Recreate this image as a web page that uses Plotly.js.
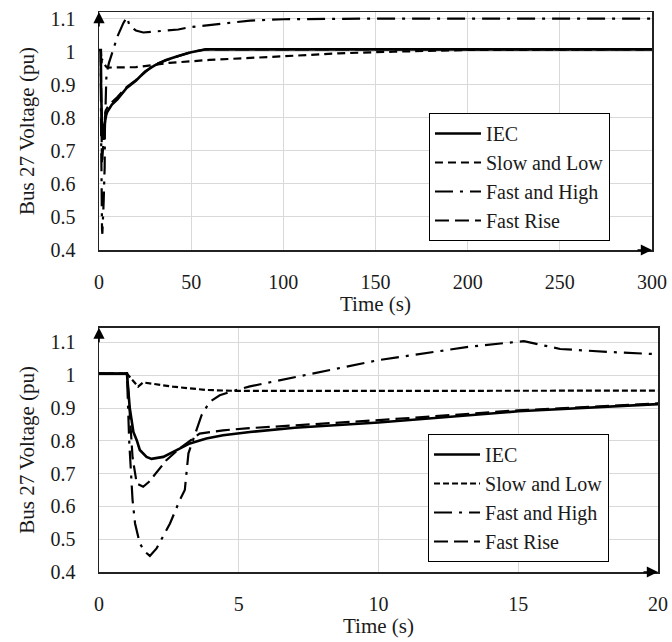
<!DOCTYPE html>
<html>
<head>
<meta charset="utf-8">
<script src="https://cdn.plot.ly/plotly-3.0.1.min.js"></script>
<style>html,body{margin:0;padding:0;background:#fff;}#chart{width:672px;height:642px;}</style>
</head>
<body>
<div id="chart"></div>
<script>
// Series names
const seriesNames = ["IEC", "Slow and Low", "Fast and High", "Fast Rise"];

// IEC
const tIEC = [0, 1.0, 1.1, 1.23, 1.35, 1.46, 1.7, 1.88, 2.3, 2.77, 3.25, 3.84, 4.44, 5.4, 7, 10, 13.25, 15, 20, 25, 30, 36, 43, 50, 58, 100, 200, 300];
const vIEC = [1.005, 1.005, 0.9, 0.827, 0.802, 0.772, 0.751, 0.745, 0.751, 0.772, 0.792, 0.807, 0.817, 0.827, 0.84, 0.856, 0.878, 0.89, 0.912, 0.94, 0.958, 0.974, 0.987, 0.998, 1.007, 1.007, 1.007, 1.007];

// Slow and Low
const tSlow = [0, 1.0, 1.4, 1.58, 2.65, 3.85, 5, 10, 15, 20, 38, 60, 100, 130, 160, 200, 300];
const vSlow = [1.005, 1.005, 0.965, 0.978, 0.965, 0.955, 0.952, 0.952, 0.952, 0.953, 0.966, 0.975, 0.986, 0.995, 1.0, 1.005, 1.007];

// Fast and High
const tFast = [0, 1.0, 1.08, 1.2, 1.29, 1.46, 1.64, 1.82, 2.06, 2.54, 2.89, 3.07, 3.2, 3.49, 3.67, 3.96, 4.32, 4.68, 5.4, 10, 13.25, 15.2, 16.5, 18.25, 20, 24, 43, 49, 82, 100, 150, 300];
const vFast = [1.005, 1.005, 0.8, 0.62, 0.548, 0.487, 0.462, 0.449, 0.472, 0.548, 0.619, 0.65, 0.762, 0.838, 0.878, 0.919, 0.939, 0.949, 0.966, 1.046, 1.087, 1.104, 1.08, 1.071, 1.064, 1.058, 1.067, 1.074, 1.094, 1.098, 1.1, 1.1];

// Fast Rise
const tRise = [0, 1.0, 1.05, 1.2, 1.35, 1.58, 1.79, 2.06, 2.41, 2.89, 3.37, 3.6, 4.44, 5.27, 10, 13.25, 15, 20, 30, 40, 50, 58, 100, 300];
const vRise = [1.005, 1.005, 0.95, 0.75, 0.67, 0.66, 0.675, 0.705, 0.741, 0.777, 0.807, 0.822, 0.832, 0.838, 0.863, 0.882, 0.893, 0.914, 0.961, 0.981, 0.999, 1.007, 1.007, 1.007];

// Axis ticks
const topXTicks = [0, 50, 100, 150, 200, 250, 300];
const botXTicks = [0, 5, 10, 15, 20];
const yTicks = [0.4, 0.5, 0.6, 0.7, 0.8, 0.9, 1, 1.1];

const FONT = "Liberation Serif";
const TXT = "#1a1a1a";

const data = [tIEC, tSlow, tFast, tRise];
const vals = [vIEC, vSlow, vFast, vRise];
const widths = [2.6, 2.2, 2.2, 2.2];
const dashTop = ["solid", "8px,5px", "18px,7px,3px,7px", "14px,6px"];
const dashBot = ["solid", "6px,3px", "18px,7px,3px,7px", "14px,6px"];

const traces = [];
for (let i = 0; i < 4; i++) {
  traces.push({
    x: data[i], y: vals[i], type: "scatter", mode: "lines",
    name: seriesNames[i], xaxis: "x", yaxis: "y", legend: "legend",
    legendgroup: "t" + i,
    line: {color: "#000", width: widths[i], dash: dashTop[i]}
  });
}
for (let i = 0; i < 4; i++) {
  traces.push({
    x: data[i], y: vals[i], type: "scatter", mode: "lines",
    name: seriesNames[i], xaxis: "x2", yaxis: "y2", legend: "legend2",
    legendgroup: "b" + i,
    line: {color: "#000", width: widths[i], dash: dashBot[i]}
  });
}

function xax(domain, range, ticks, anchor) {
  return {
    domain: domain, range: range, anchor: anchor,
    tickmode: "array", tickvals: ticks, ticktext: ticks.map(String),
    showgrid: true, gridcolor: "#d9d9d9", gridwidth: 1,
    zeroline: false, showline: true, linecolor: "#222", linewidth: 1.5, mirror: true,
    ticks: "", ticklabelstandoff: 13,
    tickfont: {family: FONT, size: 20, color: TXT},
    title: {text: "Time (s)", font: {family: FONT, size: 21, color: TXT}, standoff: 5}
  };
}
function yax(domain, range, anchor) {
  return {
    domain: domain, range: range, anchor: anchor,
    tickmode: "array", tickvals: yTicks, ticktext: yTicks.map(String),
    showgrid: true, gridcolor: "#d9d9d9", gridwidth: 1,
    zeroline: false, showline: true, linecolor: "#222", linewidth: 1.5, mirror: true,
    ticks: "", ticklabelstandoff: 18,
    tickfont: {family: FONT, size: 20, color: TXT},
    title: {text: "Bus 27 Voltage (pu)", font: {family: FONT, size: 21, color: TXT}, standoff: 10}
  };
}

function arrow(xref, yref, x, y, ax, ay) {
  return {xref: xref, yref: yref, x: x, y: y, ax: ax, ay: ay, axref: "pixel", ayref: "pixel",
    text: "", showarrow: true, arrowhead: 2, arrowsize: 1.4, arrowwidth: 1.6, arrowcolor: "#000"};
}

const legendCommon = {
  xref: "paper", yref: "paper", xanchor: "left", yanchor: "top",
  bgcolor: "#fff", bordercolor: "#000", borderwidth: 1,
  font: {family: FONT, size: 20, color: TXT},
  tracegroupgap: 0, itemwidth: 46
};

const layout = {
  width: 672, height: 642,
  font: {family: FONT, color: TXT},
  margin: {l: 99, r: 14, t: 12, b: 70},
  paper_bgcolor: "#fff", plot_bgcolor: "#fff",
  showlegend: true,
  xaxis: xax([0, 0.9893], [0, 300], topXTicks, "y"),
  yaxis: yax([0.575, 1], [0.4, 1.12], "x"),
  xaxis2: xax([0, 1], [0, 20], botXTicks, "y2"),
  yaxis2: yax([0, 0.4363], [0.4, 1.145], "x2"),
  legend: Object.assign({x: 0.5903, y: 0.8196}, legendCommon),
  legend2: Object.assign({x: 0.5886, y: 0.2464}, legendCommon),
  annotations: [
    arrow("x domain", "y domain", 0, 1, 0, 16),
    arrow("x domain", "y domain", 1, 0, -16, 0),
    arrow("x2 domain", "y2 domain", 0, 1, 0, 16),
    arrow("x2 domain", "y2 domain", 1, 0, -16, 0)
  ]
};

Plotly.newPlot("chart", traces, layout, {staticPlot: true, displayModeBar: false});
</script>
</body>
</html>
